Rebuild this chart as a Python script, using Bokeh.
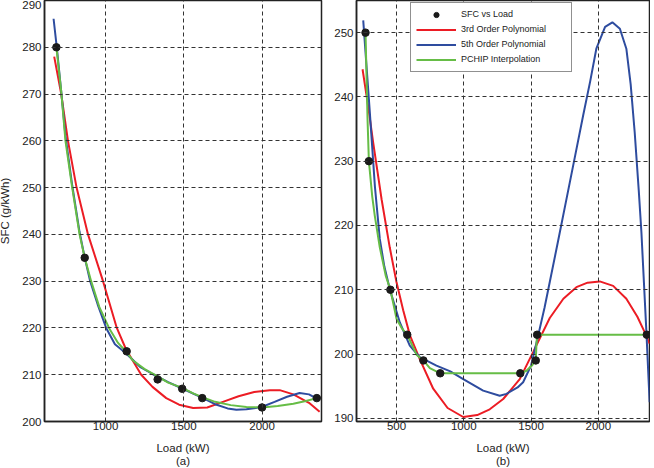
from bokeh.plotting import figure
from bokeh.layouts import row
from bokeh.models import Range1d, FixedTicker, Legend, LegendItem
from bokeh.embed import file_html
from bokeh.resources import INLINE

# ---------------- data: panel (a) ----------------
a_load = [686, 867, 1135, 1333, 1490, 1618, 2000, 2350]
a_sfc = [280, 235, 215, 209, 207, 205, 203, 205]

a_p3_x = [672, 717, 760, 815, 888, 984, 1072, 1130, 1228, 1300, 1388, 1470, 1560, 1650, 1750, 1850, 1950, 2050, 2113, 2200, 2300, 2368]
a_p3_y = [278, 270, 260, 250, 240, 230, 220, 215.5, 210, 207.4, 205, 203.6, 202.9, 203.0, 204.2, 205.4, 206.3, 206.7, 206.7, 205.8, 204.0, 202.1]

a_p5_x = [668, 689, 717, 744, 787, 834, 864, 902, 950, 1004, 1060, 1130, 1220, 1303, 1400, 1500, 1623, 1700, 1780, 1836, 1900, 1960, 2006, 2080, 2160, 2240, 2300, 2350]
a_p5_y = [286.1, 279.8, 270.5, 261, 250.5, 240.5, 235.5, 230, 225, 220, 216.5, 214.6, 211.7, 210.1, 208.4, 206.9, 205, 203.7, 202.8, 202.5, 202.6, 202.9, 203.2, 204.2, 205.3, 206.1, 205.8, 204.9]

a_pc_x = [686, 717, 744, 787, 834, 867, 908, 960, 1022, 1080, 1135, 1173, 1250, 1313, 1400, 1490, 1560, 1618, 1700, 1800, 1900, 2000, 2100, 2200, 2280, 2350]
a_pc_y = [280, 270.5, 260, 250, 240, 235, 230, 224.5, 220, 216.8, 214.8, 213.1, 211.2, 210, 208.3, 207.2, 206.0, 205.2, 204.2, 203.5, 203.1, 203.0, 203.3, 203.8, 204.4, 205]

# ---------------- data: panel (b) ----------------
b_load = [270, 295, 455, 580, 700, 825, 1420, 1535, 1545, 2360]
b_sfc = [250, 230, 210, 203, 199, 197, 197, 199, 203, 203]

b_p3_x = [248, 290, 327, 390, 450, 500, 550, 600, 673, 773, 880, 996, 1100, 1193, 1293, 1416, 1515, 1639, 1740, 1837, 1920, 2010, 2110, 2208, 2290, 2344, 2381]
b_p3_y = [244.3, 238.5, 232.9, 224.0, 216.6, 211.2, 206.8, 202.9, 199.2, 194.6, 191.6, 190.2, 190.5, 191.4, 193.0, 196.1, 200.3, 205.6, 208.6, 210.4, 211.1, 211.3, 210.6, 208.6, 205.8, 203.4, 201.6]

b_p5_x = [253, 302, 340, 376, 410, 450, 525, 599, 673, 797, 900, 996, 1144, 1267, 1317, 1400, 1441, 1500, 1553, 1600, 1639, 1700, 1763, 1825, 1887, 1940, 1985, 2050, 2104, 2160, 2208, 2240, 2270, 2300, 2320, 2357, 2381]
b_p5_y = [251.9, 237.6, 226.0, 217.9, 213.6, 210.1, 204.9, 201.3, 199.5, 198.2, 197.3, 196.1, 194.3, 193.5, 193.8, 194.8, 195.6, 198.2, 202.9, 207.2, 211.2, 217.5, 224.1, 230.6, 237.1, 242.5, 247.5, 250.9, 251.6, 250.6, 247.5, 242.0, 234.5, 225.5, 218.9, 203.4, 192.5]

b_pc_x = [270, 285, 295, 320, 339, 376, 420, 455, 500, 540, 580, 649, 700, 748, 825, 1420, 1466, 1510, 1535, 1540, 1545, 2360]
b_pc_y = [250, 236.5, 230, 224.5, 221.5, 216.6, 212.2, 210, 205.5, 204.0, 203, 199.9, 199, 197.8, 197, 197, 197.4, 198.3, 199, 201.5, 203, 203]

a_xticks = [1000, 1500, 2000]
a_yticks = [200, 210, 220, 230, 240, 250, 260, 270, 280, 290]
b_xticks = [500, 1000, 1500, 2000]
b_yticks = [190, 200, 210, 220, 230, 240, 250]

RED = "#ec1c24"
BLUE = "#2e4c9f"
GREEN = "#66bd46"
INK = "#222222"
FONT = "Liberation Sans"
FS = "11.5px"


def make_fig(width, height, xr, yr, xticks, yticks, xlabel, ylabel, bl, br):
    p = figure(width=width, height=height, output_backend="svg", toolbar_location=None,
               x_range=Range1d(*xr), y_range=Range1d(*yr),
               min_border_left=bl, min_border_right=br, min_border_top=0, min_border_bottom=40)
    p.background_fill_color = "white"
    p.border_fill_color = "white"
    p.outline_line_color = INK
    p.outline_line_width = 1.5
    for ax in (p.xaxis[0], p.yaxis[0]):
        ax.major_label_text_font = FONT
        ax.major_label_text_font_size = FS
        ax.major_label_text_color = INK
        ax.axis_label_text_font = FONT
        ax.axis_label_text_font_size = FS
        ax.axis_label_text_font_style = "normal"
        ax.axis_label_text_color = INK
        ax.axis_label_text_line_height = 1.15
        ax.axis_line_color = INK
        ax.axis_line_width = 1.5
        ax.major_tick_in = 0
        ax.major_tick_out = 0
        ax.minor_tick_line_color = None
        ax.major_label_standoff = 3
    p.xaxis[0].major_label_standoff = 0
    xt = FixedTicker(ticks=xticks)
    yt = FixedTicker(ticks=yticks)
    p.xaxis[0].ticker = xt
    p.yaxis[0].ticker = yt
    p.xgrid.ticker = xt
    p.ygrid.ticker = yt
    p.xaxis[0].axis_label = xlabel
    p.xaxis[0].axis_label_standoff = 9
    if ylabel:
        p.yaxis[0].axis_label = ylabel
        p.yaxis[0].axis_label_standoff = 8
    p.xgrid.grid_line_color = "#333333"
    p.ygrid.grid_line_color = "#333333"
    p.xgrid.grid_line_dash = "4 3"
    p.ygrid.grid_line_dash = "4 3"
    p.xgrid.grid_line_width = 1
    p.ygrid.grid_line_width = 1
    p.xgrid.level = "glyph"
    p.ygrid.level = "glyph"
    return p


pa = make_fig(332, 470, (610, 2380), (200, 290), a_xticks, a_yticks,
              "Load (kW)\n(a)", "SFC (g/kWh)", 48, 7)
pa.line(a_p3_x, a_p3_y, line_color=RED, line_width=2)
pa.line(a_p5_x, a_p5_y, line_color=BLUE, line_width=2)
pa.line(a_pc_x, a_pc_y, line_color=GREEN, line_width=2)
pa.scatter(a_load, a_sfc, size=7.5, color="#1a1a1a")

pb = make_fig(322, 470, (203, 2380), (189.5, 255), b_xticks, b_yticks,
              "Load (kW)\n(b)", None, 28, 1)
rp3 = pb.line(b_p3_x, b_p3_y, line_color=RED, line_width=2)
rp5 = pb.line(b_p5_x, b_p5_y, line_color=BLUE, line_width=2)
rpc = pb.line(b_pc_x, b_pc_y, line_color=GREEN, line_width=2)
rsc = pb.scatter(b_load, b_sfc, size=7.5, color="#1a1a1a")

legend = Legend(items=[
    LegendItem(label="SFC vs Load", renderers=[rsc]),
    LegendItem(label="3rd Order Polynomial", renderers=[rp3]),
    LegendItem(label="5th Order Polynomial", renderers=[rp5]),
    LegendItem(label="PCHIP Interpolation", renderers=[rpc]),
], location=(54, 349))
legend.label_text_font = FONT
legend.label_text_font_size = "9px"
legend.label_text_color = INK
legend.glyph_width = 40
legend.glyph_height = 13
legend.label_height = 13
legend.spacing = 2
legend.padding = 5
legend.margin = 0
legend.label_standoff = 5
legend.label_width = 105
legend.border_line_color = INK
legend.border_line_width = 1.5
legend.background_fill_color = "white"
legend.background_fill_alpha = 1
pb.add_layout(legend, "center")

# the page margin is 8px; these pull the layout out to the window edges like the
# reference, and keep the page from overflowing the window
layout = row(pa, pb, spacing=0,
             styles={"margin-top": "-0.5px", "margin-left": "-4px",
                     "margin-right": "-4px", "margin-bottom": "-24px",
                     "width": "654px", "min-width": "654px"})
open("out.html", "w").write(file_html(layout, INLINE))
